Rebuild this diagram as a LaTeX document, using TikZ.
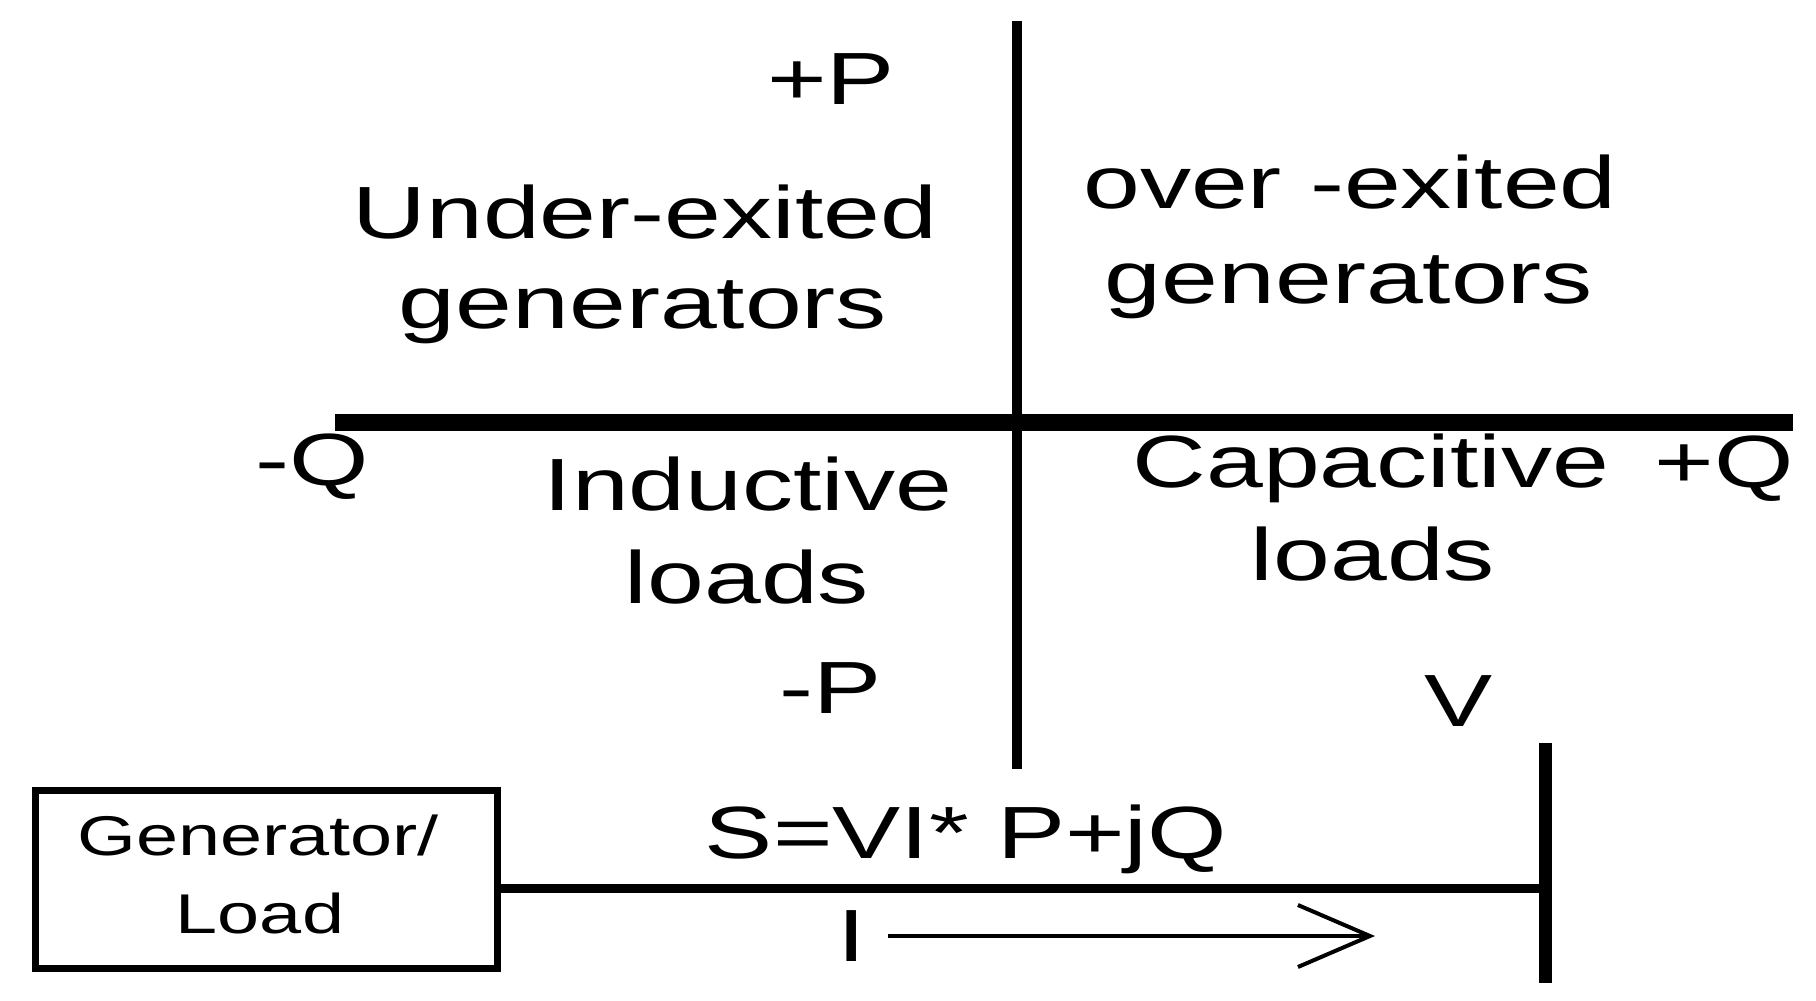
\documentclass[tikz,border=0pt]{standalone}
\usepackage{fontspec}
\setmainfont{Liberation Sans}
\usetikzlibrary{arrows.meta}
\newcommand{\widetxt}[1]{\scalebox{1.38}[1]{#1}}
\newcommand{\widebox}[1]{\scalebox{1.35}[1]{#1}}
\tikzset{
  lbl/.style={anchor=base, inner sep=0pt, font=\fontsize{37}{44}\selectfont},
  axis/.style={line width=5pt, line cap=butt},
  haxis/.style={line width=8.5pt, line cap=butt},
  boxst/.style={draw, line width=3.5pt, minimum width=231pt, minimum height=89pt, inner sep=0pt},
  boxtxt/.style={anchor=base, inner sep=0pt, font=\fontsize{28}{34}\selectfont},
  wire/.style={line width=4.5pt},
  busst/.style={line width=6.5pt},
  cur/.style={line width=2pt, -{Straight Barb[length=36pt, width=31pt, line width=2pt]}}
}
\begin{document}
\begin{tikzpicture}[x=0.5pt, y=-0.5pt]
\useasboundingbox (0,0) rectangle (1816,1001);
% axes
\coordinate (vt) at (1017,21);
\coordinate (vb) at (1017,769);
\coordinate (hl) at (335,422);
\coordinate (hr) at (1793,422);
\draw[axis] (vt) -- (vb);
\draw[haxis] (hl) -- (hr);
% quadrant labels
\node[lbl] (pP) at (831,104) {\widetxt{+P}};
\node[lbl] (ue1) at (645,238) {\widetxt{Under-exited}};
\node[lbl] (ue2) at (643,328) {\widetxt{generators}};
\node[lbl] (oe1) at (1350,208) {\widetxt{over -exited}};
\node[lbl] (oe2) at (1349,303) {\widetxt{generators}};
\node[lbl] (mQ) at (312,485) {\widetxt{-Q}};
\node[lbl] (il1) at (748,510) {\widetxt{Inductive}};
\node[lbl] (il2) at (747,603) {\widetxt{loads}};
\node[lbl] (cl1) at (1371,487) {\widetxt{Capacitive}};
\node[lbl] (pQ) at (1724,487) {\widetxt{+Q}};
\node[lbl] (cl2) at (1373,580) {\widetxt{loads}};
\node[lbl] (mP) at (831,713) {\widetxt{-P}};
\node[lbl] (V) at (1459,726) {\widetxt{V}};
% one-line circuit
\node[boxst] (box) at (266,879) {};
\node[boxtxt] (gen) at (258,855) {\widebox{Generator/}};
\node[boxtxt] (load) at (260,933) {\widebox{Load}};
\coordinate (bt) at (1545,743);
\coordinate (bb) at (1545,983);
\coordinate (ln) at (1545,888);
\draw[busst] (bt) -- (bb);
\draw[wire] (box.east |- ln) -- (ln);
\node[lbl] (S) at (966,858) {\widetxt{S=VI* P+jQ}};
\node[lbl] (I) at (852,961) {\widetxt{I}};
\coordinate (a1) at (888,936);
\coordinate (a2) at (1375,936);
\draw[cur] (a1) -- (a2);
\end{tikzpicture}
\end{document}
